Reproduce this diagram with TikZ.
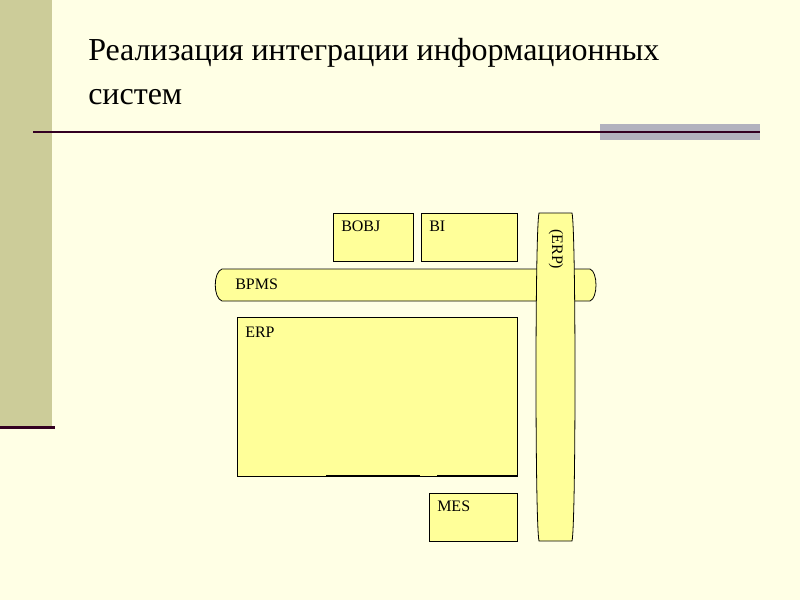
\documentclass[tikz,border=0pt]{standalone}
\usepackage{fontspec}
\setmainfont{Liberation Serif}
\definecolor{bg}{HTML}{FFFFE5}
\definecolor{strip}{HTML}{CCCC99}
\definecolor{boxy}{HTML}{FFFF99}
\definecolor{grayb}{HTML}{B2B2BE}
\definecolor{dline}{HTML}{330022}
\begin{document}
\begin{tikzpicture}[x=0.75pt,y=-0.75pt,
  box/.style={draw=black,fill=boxy,line width=0.6pt},
  lbl/.style={anchor=north west,font=\fontsize{12}{14}\selectfont,inner sep=0pt}]
\fill[bg] (0,0) rectangle (800,600);
\useasboundingbox (0,0) rectangle (800,600);
\fill[strip] (0,0) rectangle (52,428);
\fill[dline] (0,426) rectangle (55,429);
\fill[grayb] (600,124) rectangle (760,140);
\draw[dline,line width=1.5pt] (33,132) -- (760,132);
\node[anchor=north west,align=left,inner sep=0pt,font=\fontsize{24}{33}\selectfont] (title) at (88,38) {Реализация интеграции информационных\\систем};
% BPMS bar
\draw[box] (222,269) -- (590,269) .. controls (598,272) and (598,298) .. (590,301) -- (222,301) .. controls (213,298) and (213,272) .. (222,269) -- cycle;
\node[lbl] (bpms) at (235,279) {BPMS};
\draw[box] (333,213) rectangle (413,261);
\node[lbl] (bobj) at (341,221) {BOBJ};
\draw[box] (421,213) rectangle (517,261);
\node[lbl] (bi) at (429,221) {BI};
\draw[box] (237,317) rectangle (517,476);
\draw[line width=1.2pt] (326,476) -- (420,476) (437,476) -- (517,476);
\node[lbl] (erp) at (245,327) {ERP};
\draw[box] (429,493) rectangle (517,541);
\node[lbl] (mes) at (437,501) {MES};
% vertical bar
\draw[box] (539,213) -- (572,213) .. controls (576,230) and (576,524) .. (572,541) -- (539,541) .. controls (535,524) and (535,230) .. (539,213) -- cycle;
\node[rotate=-90,anchor=west,inner sep=0pt,font=\fontsize{12}{14}\selectfont] (erpv) at (556,229) {(ERP)};
\end{tikzpicture}
\end{document}
